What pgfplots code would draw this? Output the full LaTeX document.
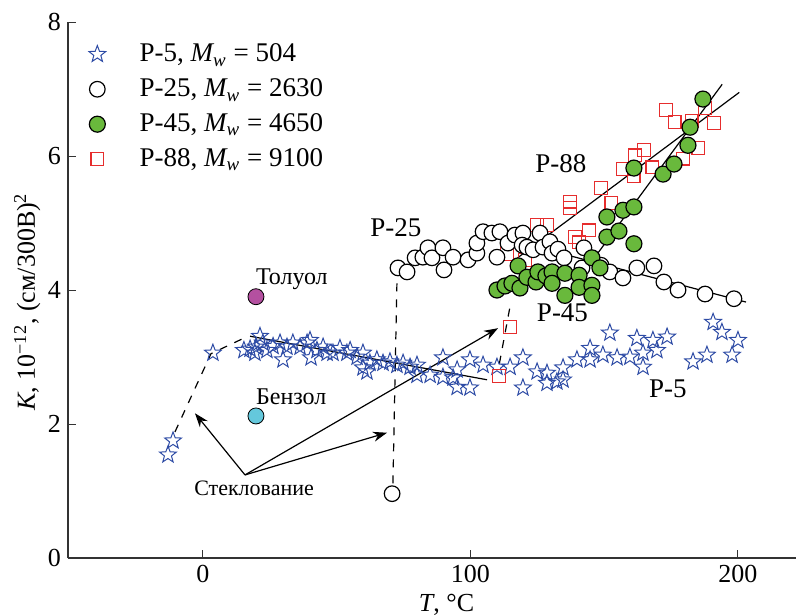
\documentclass[border=0pt]{standalone}
\usepackage{fontspec}
\setmainfont{Liberation Serif}
\usepackage{pgfplots}
\pgfplotsset{compat=1.18}
\usetikzlibrary{arrows.meta}

\definecolor{starblue}{RGB}{45,75,165}
\definecolor{greenfill}{RGB}{105,185,60}
\definecolor{sqred}{RGB}{230,45,45}
\definecolor{tolmag}{RGB}{180,80,160}
\definecolor{benzcyan}{RGB}{100,200,220}

\newcommand{\fs}[1]{\fontsize{#1}{#1}\selectfont}

% five-pointed outline star
\pgfdeclareplotmark{ostar}{%
  \pgfpathmoveto{\pgfpointpolar{90}{\pgfplotmarksize}}%
  \pgfpathlineto{\pgfpointpolar{126}{0.42\pgfplotmarksize}}%
  \pgfpathlineto{\pgfpointpolar{162}{\pgfplotmarksize}}%
  \pgfpathlineto{\pgfpointpolar{198}{0.42\pgfplotmarksize}}%
  \pgfpathlineto{\pgfpointpolar{234}{\pgfplotmarksize}}%
  \pgfpathlineto{\pgfpointpolar{270}{0.42\pgfplotmarksize}}%
  \pgfpathlineto{\pgfpointpolar{306}{\pgfplotmarksize}}%
  \pgfpathlineto{\pgfpointpolar{342}{0.42\pgfplotmarksize}}%
  \pgfpathlineto{\pgfpointpolar{18}{\pgfplotmarksize}}%
  \pgfpathlineto{\pgfpointpolar{54}{0.42\pgfplotmarksize}}%
  \pgfpathclose
  \pgfusepathqstroke}

\begin{document}
\begin{tikzpicture}
\useasboundingbox (-34pt,-28.5pt) rectangle (364pt,279pt);
\begin{axis}[
    scale only axis,
    width=364pt, height=268pt,
    xmin=-50.47, xmax=221.7,
    ymin=0, ymax=8,
    axis lines=left,
    axis line style={-, line width=0.6pt, black!80},
    xtick={0,100,200},
    ytick={0,2,4,6,8},
    tick align=inside,
    major tick length=4pt,
    tick style={black!80, line width=0.5pt},
    ticklabel style={font=\fs{13}},
    /pgf/number format/assume math mode=true,
    xlabel={\textit{T}, °C},
    ylabel={\textit{K}, 10\textsuperscript{−12}, (см/300В)\textsuperscript{2}},
    xlabel style={at={(axis description cs:0.52,-0.087)}, anchor=center, font=\fs{13}},
    ylabel style={at={(axis description cs:-0.056,0.478)}, anchor=center, font=\fs{13}},
    legend style={draw=none, fill=none, at={(axis description cs:0.02,0.975)},
        anchor=north west, font=\fs{13.5}, row sep=3pt},
    legend cell align=left,
]

% legend images
\addlegendimage{only marks, mark=ostar, mark size=4.4pt, draw=starblue, mark options={line width=0.5pt}}
\addlegendimage{only marks, mark=o, mark size=3.9pt, draw=black, mark options={line width=0.6pt}}
\addlegendimage{only marks, mark=*, mark size=4pt, draw=black, fill=greenfill, mark options={line width=0.6pt}}
\addlegendimage{only marks, mark=square, mark size=3.2pt, draw=sqred, mark options={line width=0.6pt}}
\legend{{\hspace{15pt}Р-5, \textit{M\textsubscript{w}} = 504},
        {\hspace{15pt}Р-25, \textit{M\textsubscript{w}} = 2630},
        {\hspace{15pt}Р-45, \textit{M\textsubscript{w}} = 4650},
        {\hspace{15pt}Р-88, \textit{M\textsubscript{w}} = 9100}}

% P-5
\addplot[forget plot, only marks, mark=ostar, mark size=4.4pt, draw=starblue, mark options={line width=0.5pt}] coordinates {
(-13.1,1.54) (-11.2,1.75) (3.7,3.06) (15.3,3.10) (17.6,3.12) (19.8,3.15) (21.3,3.31) (22.4,3.21)
(19.4,3.06) (23.9,3.10) (26.2,3.16) (28.8,3.21) (29.9,2.96) (31.4,3.15) (33.6,3.21) (36.3,3.15)
(38.9,3.21) (40.0,3.25) (40.4,2.99) (42.6,3.10) (44.9,3.15) (46.4,3.06) (48.6,3.06) (51.2,3.13)
(53.8,3.06) (55.0,3.10) (57.6,3.00) (59.8,3.06) (59.8,2.84) (61.3,2.78) (62.4,2.91) (65.0,2.96)
(67.3,2.91) (69.9,2.93) (72.5,2.88) (74.8,2.91) (77.4,2.85) (80.0,2.73) (80.0,2.88) (84.9,2.73)
(89.7,2.99) (89.7,2.70) (93.5,2.69) (95.0,2.55) (95.0,2.81) (99.8,2.54) (99.8,2.96) (104.7,2.88)
(109.9,2.85) (114.8,2.85) (119.6,2.99) (119.6,2.54) (124.9,2.78) (128.6,2.76) (128.6,2.61)
(132.3,2.63) (134.6,2.66) (134.6,2.84) (139.8,2.96) (144.7,3.13) (144.7,2.96) (149.5,3.03)
(152.1,3.36) (154.8,2.99) (159.6,3.00) (162.2,3.28) (164.5,3.06) (164.5,2.85) (168.2,3.25)
(169.7,3.10) (173.5,3.30) (183.2,2.93) (188.4,3.03) (190.7,3.52) (194.0,3.37) (197.8,3.03) (200.0,3.25)
};

% P-88
\addplot[forget plot, only marks, mark=square, mark size=3.2pt, draw=sqred, mark options={line width=0.6pt}] coordinates {
(110.7,2.72) (114.8,3.45) (113.6,4.54) (120.4,4.45) (124.9,4.97) (128.6,4.97) (139.1,4.79)
(140.6,4.71) (144.3,4.89) (137.3,5.32) (137.3,5.22) (148.8,5.52) (152.7,5.30) (156.9,5.81)
(161.0,5.70) (161.5,6.01) (164.9,6.09) (168.0,5.83) (173.1,6.69) (176.3,6.51) (179.4,5.96)
(182.7,6.52) (185.2,6.12) (187.7,6.72) (191.0,6.49)
};

% P-25
\addplot[forget plot, only marks, mark=*, mark size=3.9pt, draw=black, fill=white, mark options={line width=0.6pt}] coordinates {
(70.7,0.96) (72.9,4.33) (76.3,4.27) (79.3,4.48) (82.2,4.49) (84.1,4.63) (85.6,4.48) (89.7,4.63)
(90.1,4.30) (93.5,4.49) (99.1,4.45) (102.4,4.55) (102.4,4.70) (104.7,4.87) (108.0,4.85) (111.0,4.87)
(109.9,4.49) (114.0,4.70) (116.6,4.82) (119.6,4.85) (119.3,4.67) (121.1,4.64) (123.4,4.60)
(126.0,4.85) (127.1,4.64) (129.7,4.72) (130.5,4.55) (132.7,4.61) (135.0,4.48) (142.4,4.63)
(141.7,4.33) (148.8,4.37) (152.1,4.27) (157.0,4.18) (162.2,4.33) (168.6,4.36) (172.3,4.12)
(177.6,4.00) (187.7,3.94) (198.5,3.87)
};

% P-45
\addplot[forget plot, only marks, mark=*, mark size=4pt, draw=black, fill=greenfill, mark options={line width=0.6pt}] coordinates {
(109.9,4.00) (112.9,4.06) (115.5,4.10) (118.5,4.03) (117.8,4.36) (121.1,4.19) (124.5,4.12)
(125.2,4.27) (128.2,4.21) (130.5,4.27) (130.5,4.10) (135.3,4.25) (135.3,3.92) (140.6,4.22)
(140.6,4.04) (145.4,4.48) (145.4,4.07) (145.4,3.92) (148.4,4.33) (151.0,4.79) (151.0,5.09)
(155.5,4.88) (157.0,5.19) (161.1,5.24) (161.1,4.69) (161.1,5.82) (172.0,5.73) (176.1,5.88)
(181.3,6.16) (182.1,6.43) (186.9,6.85)
};

% solvents
\addplot[forget plot, only marks, mark=*, mark size=4pt, draw=none, fill=tolmag] coordinates {(19.8,3.90)};
\addplot[forget plot, only marks, mark=*, mark size=4pt, draw=none, fill=benzcyan] coordinates {(19.8,2.12)};

% fitted lines
\addplot[forget plot, black, line width=0.6pt] coordinates {(17.6,3.31) (106.2,2.66)};
\addplot[forget plot, black, line width=0.6pt] coordinates {(103,4.87) (203,3.82)};
\addplot[forget plot, black, line width=0.6pt] coordinates {(117.6,4.48) (200.5,6.95)};
\addplot[forget plot, black, line width=0.6pt] coordinates {(140.6,4.17) (194.1,7.07)};

% glass transition guides
\addplot[forget plot, black, line width=0.6pt, dash pattern=on 4pt off 4pt] coordinates {(-10.5,1.88) (3,3.05) (16.8,3.31)};
\addplot[forget plot, black, line width=0.6pt, dash pattern=on 4pt off 4pt] coordinates {(72.5,4.1) (71,1.1)};
\addplot[forget plot, black, line width=0.6pt, dash pattern=on 4pt off 4pt] coordinates {(110.8,2.9) (115,3.8)};

% arrows
\draw[-{Stealth[length=7pt,width=5pt]}, line width=0.6pt] (axis cs:15.7,1.24) -- (axis cs:-3,2.16);
\draw[-{Stealth[length=7pt,width=5pt]}, line width=0.6pt] (axis cs:15.7,1.24) -- (axis cs:68.8,1.87);
\draw[-{Stealth[length=7pt,width=5pt]}, line width=0.6pt] (axis cs:15.7,1.24) -- (axis cs:110.3,3.43);

% labels
\node[font=\fs{11}] at (axis cs:19.1,1.04) {Стеклование};
\node[font=\fs{12}, anchor=west] at (axis cs:17.2,4.16) {Толуол};
\node[font=\fs{12}, anchor=west] at (axis cs:17.2,2.40) {Бензол};
\node[font=\fs{13.5}] at (axis cs:72.1,4.93) {Р-25};
\node[font=\fs{13.5}] at (axis cs:133.8,5.88) {Р-88};
\node[font=\fs{13.5}] at (axis cs:134.4,3.66) {Р-45};
\node[font=\fs{13.5}] at (axis cs:173.8,2.52) {Р-5};

\end{axis}
\end{tikzpicture}
\end{document}
